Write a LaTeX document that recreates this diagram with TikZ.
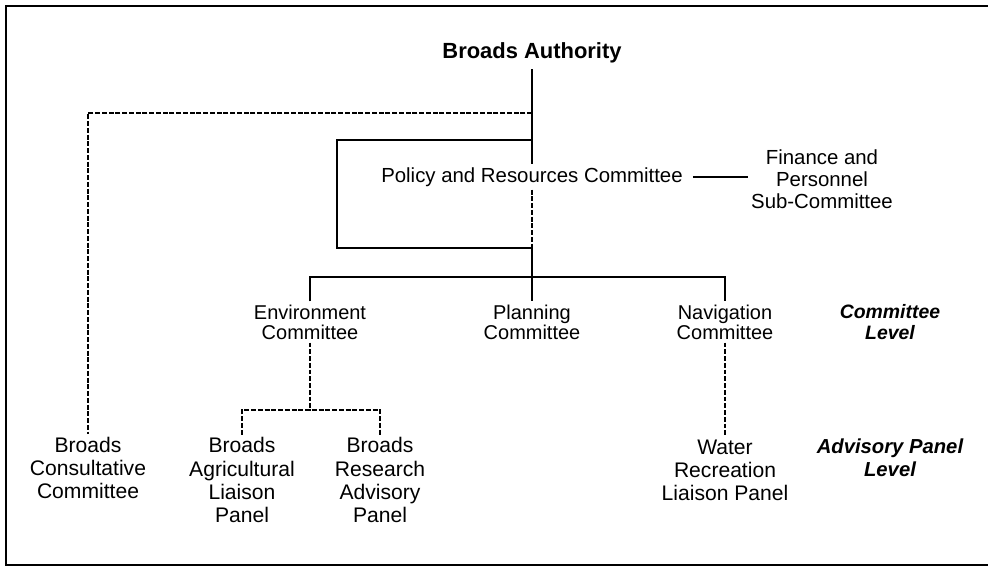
\documentclass[tikz,border=0pt]{standalone}
\usepackage{fontspec}
\setmainfont{Liberation Sans}
\usetikzlibrary{positioning}
\begin{document}
\begin{tikzpicture}[x=0.025cm, y=-0.025cm,
        unit/.style={align=center, inner sep=2pt, font=\fontsize{14.2}{14.4}\selectfont},
        panel/.style={align=center, inner sep=2pt, font=\fontsize{15}{16.4}\selectfont},
        head/.style={inner sep=4pt, font=\fontsize{15.6}{16}\selectfont\bfseries},
        level/.style={unit, font=\fontsize{13.8}{14.4}\selectfont\bfseries\itshape},
        link/.style={line width=1.1pt},
        advice/.style={line width=1.1pt, dash pattern=on 3.5pt off 1.3pt}]
    \useasboundingbox (0,0) rectangle (988,566);
    \draw[line width=1pt] (988,6) -- (6,6) -- (6,565) -- (988,565);
    \node[head] (ba) at (532,53) {Broads Authority};
    \node[unit, font=\fontsize{14.5}{16}\selectfont] (prc) at (532,177) {Policy and Resources Committee};
    \node[unit, font=\fontsize{14.5}{15.5}\selectfont] (fps) at (822,179) {Finance and\\Personnel\\Sub-Committee};
    \node[unit] (env) at (310,322) {Environment\\Committee};
    \node[unit] (pla) at (532,322) {Planning\\Committee};
    \node[unit] (nav) at (725,322) {Navigation\\Committee};
    \node[level] (cl) at (890,322) {Committee\\Level};
    \node[panel] (bcc) at (88,468) {Broads\\Consultative\\Committee};
    \node[panel] (bal) at (242,480) {Broads\\Agricultural\\Liaison\\Panel};
    \node[panel] (bra) at (380,480) {Broads\\Research\\Advisory\\Panel};
    \node[panel] (wrl) at (725,470) {Water\\Recreation\\Liaison Panel};
    \node[level, font=\fontsize{14.4}{16.4}\selectfont\bfseries\itshape] (apl) at (890,458) {Advisory Panel\\Level};
    \coordinate (top) at (532,113);
    \coordinate (loopT) at (532,140);
    \coordinate (loopL) at (337,194);
    \coordinate (loopB) at (532,248);
    \coordinate (bar) at (532,277);
    \coordinate (envfork) at (310,410);
    \draw[link] (ba.south) -- (prc.north);
    \draw[link] (loopT) -| (loopL) |- (loopB);
    \draw[advice] (prc.south) -- (loopB);
    \draw[link] (loopB) -- (pla.north);
    \draw[link] (env.north) |- (bar) -| (nav.north);
    \draw[link, shorten <=5pt] (prc.east) -- (prc.east -| fps.west);
    \draw[advice] (top) -| (bcc.north);
    \draw[advice] (env.south) -- (envfork);
    \draw[advice] (bal.north) |- (envfork) -| (bra.north);
    \draw[advice] (nav.south) -- (wrl.north);
\end{tikzpicture}
\end{document}
